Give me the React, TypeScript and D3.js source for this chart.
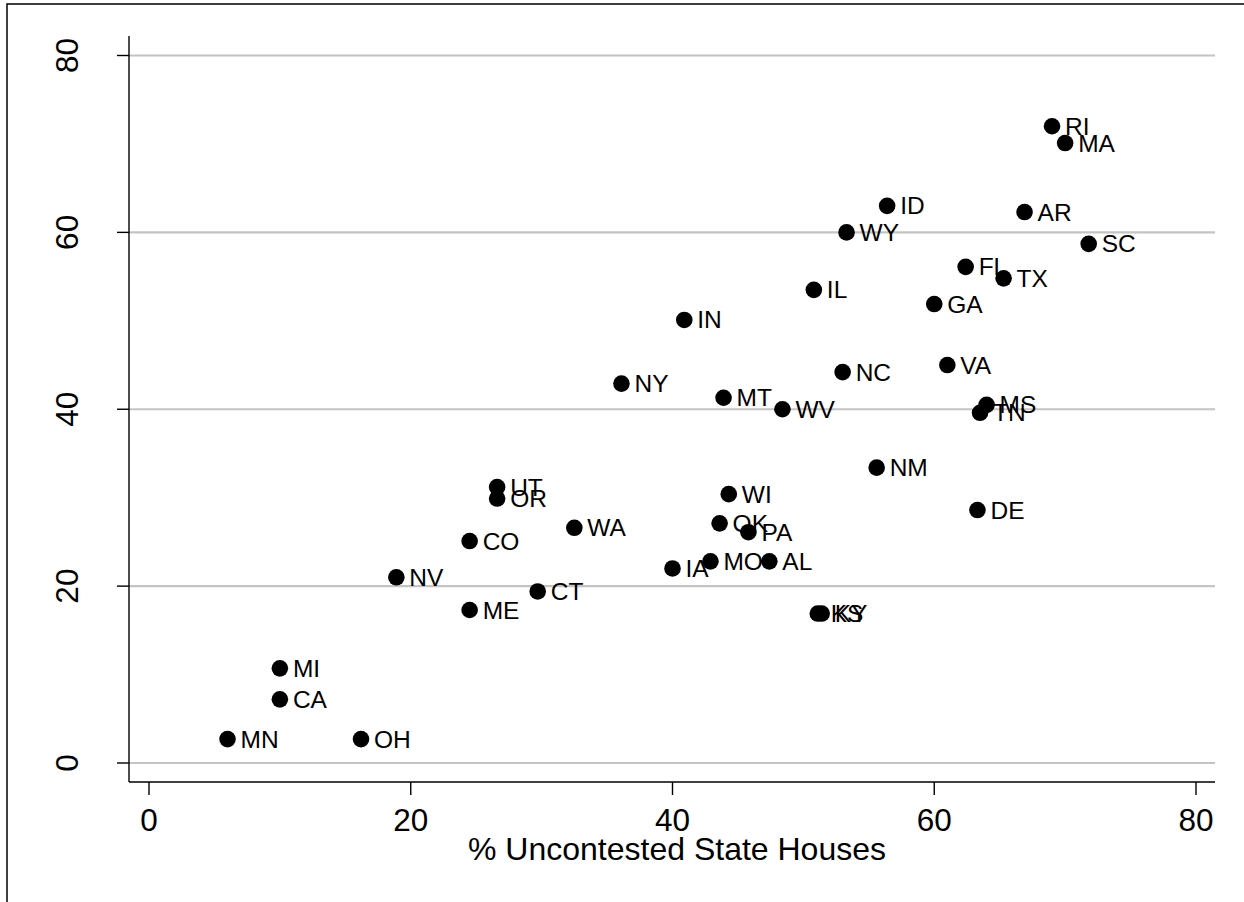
import React from "react";
import * as d3 from "d3";

const states = ["RI","MA","ID","AR","WY","SC","FL","TX","IL","GA","IN","VA","NC","NY","MT","WV","MS","TN","NM","UT","OR","WI","DE","OK","PA","WA","CO","IA","MO","AL","NV","CT","ME","KS","KY","MI","CA","MN","OH"];
const uncontested = [69.0,70.0,56.4,66.9,53.3,71.8,62.4,65.3,50.8,60.0,40.9,61.0,53.0,36.1,43.9,48.4,64.0,63.5,55.6,26.6,26.6,44.3,63.3,43.6,45.8,32.5,24.5,40.0,42.9,47.4,18.9,29.7,24.5,51.1,51.4,10.0,10.0,6.0,16.2];
const yValues = [72.0,70.1,63.0,62.3,60.0,58.7,56.1,54.8,53.5,51.9,50.1,45.0,44.2,42.9,41.3,40.0,40.5,39.6,33.4,31.2,29.9,30.4,28.6,27.1,26.1,26.6,25.1,22.0,22.8,22.8,21.0,19.4,17.3,16.9,16.9,10.7,7.2,2.7,2.7];
const xTicks = [0,20,40,60,80];
const yTicks = [0,20,40,60,80];
const xTitle = "% Uncontested State Houses";

export default function App() {
  const W = 1244, H = 902;
  const plotLeft = 129, plotRight = 1215, plotTop = 36, plotBottom = 782;
  const x = d3.scaleLinear().domain([0, 80]).range([149, 1196]);
  const y = d3.scaleLinear().domain([0, 80]).range([763, 55.5]);
  const font = "'Liberation Sans', Arial, Helvetica, sans-serif";
  const pts = states.map((s, i) => ({ s, x: uncontested[i], y: yValues[i] }));
  return (
    <svg width={W} height={H} style={{ position: "absolute", left: 0, top: 0, background: "#fff" }} fontFamily={font}>
      <rect x={0} y={0} width={W} height={H} fill="#fff" />
      <rect x={7} y={4} width={W + 20} height={H + 20} fill="none" stroke="#000" strokeWidth={1.5} />
      {yTicks.map(t => (
        <line key={"g" + t} x1={plotLeft} x2={plotRight} y1={y(t)} y2={y(t)} stroke="#c4c4c4" strokeWidth={2.2} />
      ))}
      <line x1={plotLeft} x2={plotLeft} y1={plotTop} y2={plotBottom} stroke="#000" strokeWidth={1.4} />
      <line x1={plotLeft} x2={plotRight} y1={plotBottom} y2={plotBottom} stroke="#000" strokeWidth={1.4} />
      {yTicks.map(t => (
        <g key={"yt" + t}>
          <line x1={117} x2={plotLeft} y1={y(t)} y2={y(t)} stroke="#000" strokeWidth={1.4} />
          <text transform={`translate(78,${y(t)}) rotate(-90)`} textAnchor="middle" fontSize={31.5} fill="#000">{t}</text>
        </g>
      ))}
      {xTicks.map(t => (
        <g key={"xt" + t}>
          <line x1={x(t)} x2={x(t)} y1={plotBottom} y2={795} stroke="#000" strokeWidth={1.4} />
          <text x={x(t)} y={831} textAnchor="middle" fontSize={31.5} fill="#000">{t}</text>
        </g>
      ))}
      <text x={(plotLeft + plotRight) / 2 + 5} y={860} textAnchor="middle" fontSize={32} fill="#000">{xTitle}</text>
      {pts.map(p => (
        <g key={p.s}>
          <circle cx={x(p.x)} cy={y(p.y)} r={8.3} fill="#000" />
          <text x={x(p.x) + 13} y={y(p.y) + 8.5} fontSize={24.5} fill="#000">{p.s}</text>
        </g>
      ))}
    </svg>
  );
}
